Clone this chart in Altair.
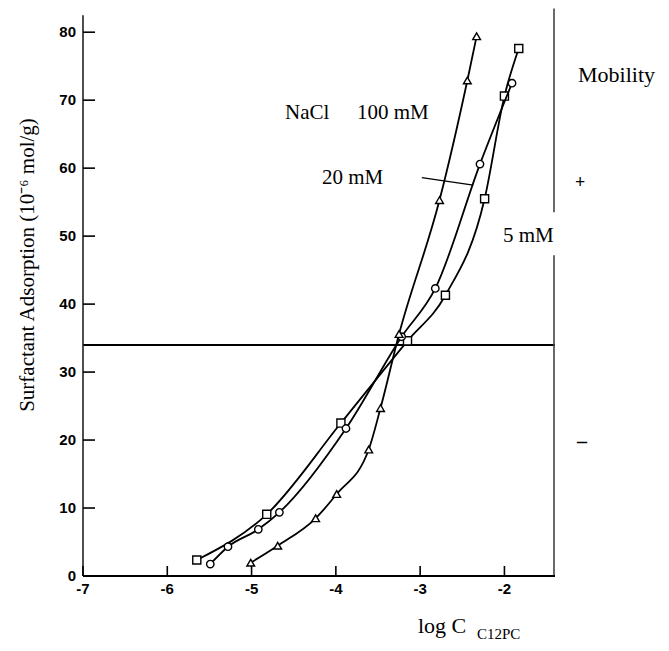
import altair as alt
import pandas as pd

# ---- data ----
tri_x = [-5.01, -4.69, -4.24, -3.99, -3.61, -3.47, -3.25, -2.77, -2.44, -2.33]
tri_y = [1.96, 4.46, 8.49, 12.06, 18.6, 24.7, 35.6, 55.3, 72.9, 79.4]
circ_x = [-5.49, -5.28, -4.92, -4.67, -3.88, -3.22, -2.82, -2.29, -1.91]
circ_y = [1.76, 4.31, 6.87, 9.37, 21.7, 35.2, 42.3, 60.6, 72.5]
sq_x = [-5.65, -4.82, -3.94, -3.15, -2.70, -2.235, -2.0, -1.83]
sq_y = [2.35, 9.07, 22.5, 34.6, 41.3, 55.5, 70.6, 77.6]

x_ticks = [-7, -6, -5, -4, -3, -2]
x_tick_labels = ["-7", "-6", "-5", "-4", "-3", "-2"]
y_ticks = [0, 10, 20, 30, 40, 50, 60, 70, 80]
y_tick_labels = ["0", "10", "20", "30", "40", "50", "60", "70", "80"]
x_domain = [-7, -1.4]
y_domain = [0, 81.5]
zero_mobility = 34
leader = {"x": -2.98, "x2": -2.37, "y": 58.6, "y2": 57.5}
right_segments = {"y": [0, 53.5], "y2": [47.2, 83.5]}
left_axis = {"y": [0], "y2": [82.5]}

tri = pd.DataFrame({"x": tri_x, "y": tri_y})
circ = pd.DataFrame({"x": circ_x, "y": circ_y})
sq = pd.DataFrame({"x": sq_x, "y": sq_y})

xs = alt.Scale(domain=x_domain, nice=False, zero=False)
ys = alt.Scale(domain=y_domain, nice=False, zero=False)
X = alt.X("x:Q", scale=xs, axis=None)
Y = alt.Y("y:Q", scale=ys, axis=None)

W, H = 472, 554

def series(df, shape, size):
    line = alt.Chart(df).mark_line(color="black", strokeWidth=1.8,
                                   interpolate="monotone").encode(x=X, y=Y)
    pts = alt.Chart(df).mark_point(shape=shape, filled=True, fill="white",
                                   stroke="black", strokeWidth=1.4,
                                   size=size, opacity=1).encode(x=X, y=Y)
    return line + pts

layers = []

# horizontal zero-mobility line
layers.append(alt.Chart(pd.DataFrame({"y": [zero_mobility]})).mark_rule(
    color="black", strokeWidth=2).encode(
    y=Y, x=alt.value(0), x2=alt.value(W)))

# right vertical mobility line
layers.append(alt.Chart(pd.DataFrame(right_segments)).mark_rule(
    color="#444", strokeWidth=1.6, clip=False).encode(
    x=alt.value(W - 1), y=Y, y2="y2:Q"))

# left axis line and bottom axis line
layers.append(alt.Chart(pd.DataFrame(left_axis)).mark_rule(
    color="#222", strokeWidth=1.6).encode(
    x=alt.value(0), y=Y, y2="y2:Q"))
layers.append(alt.Chart(pd.DataFrame({"x": [x_domain[0]], "x2": [x_domain[1]]})).mark_rule(
    color="black", strokeWidth=2).encode(
    x=X, x2="x2:Q", y=alt.value(H)))

# inward ticks
layers.append(alt.Chart(pd.DataFrame({"y": y_ticks})).mark_rule(
    color="black", strokeWidth=1.6).encode(
    y=Y, x=alt.value(0), x2=alt.value(12)))
layers.append(alt.Chart(pd.DataFrame({"x": x_ticks})).mark_rule(
    color="black", strokeWidth=1.6).encode(
    x=X, y=alt.value(H), y2=alt.value(H - 10)))

# tick labels
layers.append(alt.Chart(pd.DataFrame({"y": y_ticks, "t": y_tick_labels})).mark_text(
    font="Liberation Sans", fontWeight="bold", fontSize=15, align="right",
    baseline="middle", color="black").encode(
    y=Y, x=alt.value(-7), text="t:N"))
layers.append(alt.Chart(pd.DataFrame({"x": x_ticks, "t": x_tick_labels})).mark_text(
    font="Liberation Sans", fontWeight="bold", fontSize=15, align="center",
    baseline="top", color="black").encode(
    x=X, y=alt.value(H + 6), text="t:N"))

layers.append(series(sq, "square", 65))
layers.append(series(circ, "circle", 55))
layers.append(series(tri, "triangle-up", 60))

# leader line for 20 mM
layers.append(alt.Chart(pd.DataFrame([leader])).mark_rule(
    color="black", strokeWidth=1.2).encode(
    x=X, x2="x2:Q", y=Y, y2="y2:Q"))

serif = "Liberation Serif"

def label(text, px, py, size=21, align="left", baseline="alphabetic",
          angle=0, weight="normal"):
    return alt.Chart(pd.DataFrame({"t": [text]})).mark_text(
        font=serif, fontSize=size, align=align, baseline=baseline,
        angle=angle, color="black", fontWeight=weight).encode(
        x=alt.value(px), y=alt.value(py), text="t:N")

layers.append(label("NaCl", 202, 97))
layers.append(label("100 mM", 274, 97))
layers.append(label("20 mM", 239, 162))
layers.append(label("5 mM", 420, 220))
layers.append(label("Mobility", 495, 60, size=22))
layers.append(label("+", 497, 161, size=18, align="center", baseline="middle", weight="bold"))
layers.append(label("\u2013", 499, 420, size=20, align="center", baseline="middle", weight="bold"))
layers.append(label("log C", 335, 611, size=22))
layers.append(label("C12PC", 394, 617, size=15))
layers.append(label("Surfactant Adsorption (10\u207b\u2076 mol/g)", -55, 243,
                    size=21, align="center", baseline="middle", angle=270))

chart = alt.layer(*layers).properties(
    width=W, height=H, background="white",
    padding={"left": 75, "top": 14, "right": 106, "bottom": 67},
    autosize=alt.AutoSizeParams(type="none"),
).configure_view(stroke="transparent", strokeWidth=0)

chart.save("out.html", embed_options={"renderer": "svg", "actions": False})
